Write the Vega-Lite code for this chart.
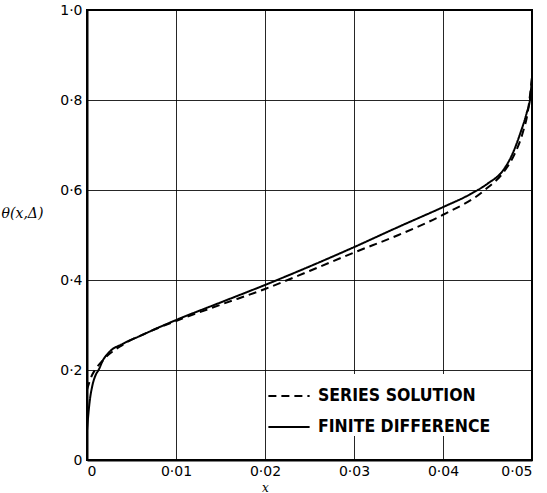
{
  "$schema": "https://vega.github.io/schema/vega-lite/v6.json",
  "width": 445,
  "height": 450,
  "autosize": "none",
  "padding": {"left": 87, "top": 10, "right": 15, "bottom": 33},
  "background": "white",
  "config": {
    "view": {"stroke": "black", "strokeWidth": 2},
    "axis": {
      "labelFont": "DejaVu Sans",
      "labelFontSize": 14,
      "labelColor": "black",
      "gridColor": "black",
      "gridOpacity": 0.85,
      "gridWidth": 1,
      "domainColor": "black",
      "domainWidth": 2,
      "ticks": false
    }
  },
  "data": {
    "values": [
      {"x": 0, "y": 0.065, "s": "FINITE DIFFERENCE"},
      {"x": 0.0001, "y": 0.09, "s": "FINITE DIFFERENCE"},
      {"x": 0.0003, "y": 0.13, "s": "FINITE DIFFERENCE"},
      {"x": 0.0006, "y": 0.165, "s": "FINITE DIFFERENCE"},
      {"x": 0.001, "y": 0.19, "s": "FINITE DIFFERENCE"},
      {"x": 0.0013, "y": 0.2, "s": "FINITE DIFFERENCE"},
      {"x": 0.0018, "y": 0.222, "s": "FINITE DIFFERENCE"},
      {"x": 0.0025, "y": 0.24, "s": "FINITE DIFFERENCE"},
      {"x": 0.004, "y": 0.258, "s": "FINITE DIFFERENCE"},
      {"x": 0.006, "y": 0.276, "s": "FINITE DIFFERENCE"},
      {"x": 0.008, "y": 0.294, "s": "FINITE DIFFERENCE"},
      {"x": 0.01, "y": 0.311, "s": "FINITE DIFFERENCE"},
      {"x": 0.015, "y": 0.35, "s": "FINITE DIFFERENCE"},
      {"x": 0.02, "y": 0.389, "s": "FINITE DIFFERENCE"},
      {"x": 0.025, "y": 0.43, "s": "FINITE DIFFERENCE"},
      {"x": 0.03, "y": 0.473, "s": "FINITE DIFFERENCE"},
      {"x": 0.035, "y": 0.518, "s": "FINITE DIFFERENCE"},
      {"x": 0.04, "y": 0.562, "s": "FINITE DIFFERENCE"},
      {"x": 0.043, "y": 0.59, "s": "FINITE DIFFERENCE"},
      {"x": 0.045, "y": 0.614, "s": "FINITE DIFFERENCE"},
      {"x": 0.0468, "y": 0.645, "s": "FINITE DIFFERENCE"},
      {"x": 0.0478, "y": 0.68, "s": "FINITE DIFFERENCE"},
      {"x": 0.0487, "y": 0.727, "s": "FINITE DIFFERENCE"},
      {"x": 0.0494, "y": 0.771, "s": "FINITE DIFFERENCE"},
      {"x": 0.0498, "y": 0.805, "s": "FINITE DIFFERENCE"},
      {"x": 0.05, "y": 0.85, "s": "FINITE DIFFERENCE"},
      {"x": 0, "y": 0.156, "s": "SERIES SOLUTION"},
      {"x": 0.0003, "y": 0.175, "s": "SERIES SOLUTION"},
      {"x": 0.0006, "y": 0.19, "s": "SERIES SOLUTION"},
      {"x": 0.0009, "y": 0.2, "s": "SERIES SOLUTION"},
      {"x": 0.0018, "y": 0.222, "s": "SERIES SOLUTION"},
      {"x": 0.004, "y": 0.256, "s": "SERIES SOLUTION"},
      {"x": 0.007, "y": 0.285, "s": "SERIES SOLUTION"},
      {"x": 0.01, "y": 0.309, "s": "SERIES SOLUTION"},
      {"x": 0.015, "y": 0.345, "s": "SERIES SOLUTION"},
      {"x": 0.02, "y": 0.38, "s": "SERIES SOLUTION"},
      {"x": 0.025, "y": 0.42, "s": "SERIES SOLUTION"},
      {"x": 0.03, "y": 0.461, "s": "SERIES SOLUTION"},
      {"x": 0.035, "y": 0.5, "s": "SERIES SOLUTION"},
      {"x": 0.04, "y": 0.545, "s": "SERIES SOLUTION"},
      {"x": 0.0447, "y": 0.6, "s": "SERIES SOLUTION"},
      {"x": 0.047, "y": 0.645, "s": "SERIES SOLUTION"},
      {"x": 0.048, "y": 0.678, "s": "SERIES SOLUTION"},
      {"x": 0.049, "y": 0.73, "s": "SERIES SOLUTION"},
      {"x": 0.0495, "y": 0.77, "s": "SERIES SOLUTION"},
      {"x": 0.05, "y": 0.85, "s": "SERIES SOLUTION"}
    ]
  },
  "mark": {"type": "line", "interpolate": "monotone", "strokeWidth": 2, "color": "black", "clip": true},
  "encoding": {
    "x": {
      "field": "x", "type": "quantitative",
      "scale": {"domain": [0, 0.05], "nice": false, "zero": false},
      "axis": {
        "values": [0, 0.01, 0.02, 0.03, 0.04, 0.05],
        "labelExpr": "datum.value == 0 ? '0' : replace(format(datum.value, '.2f'), '.', '·')",
        "labelPadding": 4,
        "title": "x",
        "titleFont": "DejaVu Serif",
        "titleFontStyle": "italic",
        "titleFontWeight": "normal",
        "titleFontSize": 12,
        "titleX": 178,
        "titleY": 27,
        "titleBaseline": "middle"
      }
    },
    "y": {
      "field": "y", "type": "quantitative",
      "scale": {"domain": [0, 1], "nice": false},
      "axis": {
        "values": [0, 0.2, 0.4, 0.6, 0.8, 1.0],
        "labelExpr": "datum.value == 0 ? '0' : replace(format(datum.value, '.1f'), '.', '·')",
        "labelPadding": 5,
        "title": "θ(x,Δ)",
        "titleFont": "DejaVu Serif",
        "titleFontStyle": "italic",
        "titleFontWeight": "normal",
        "titleFontSize": 14,
        "titleAngle": 0,
        "titleAlign": "center",
        "titleBaseline": "middle",
        "titleX": -65,
        "titleY": 203
      }
    },
    "strokeDash": {
      "field": "s", "type": "nominal",
      "scale": {"domain": ["SERIES SOLUTION", "FINITE DIFFERENCE"], "range": [[8, 5], [1, 0]]},
      "legend": {
        "title": null,
        "orient": "none",
        "legendX": 180,
        "legendY": 364,
        "fillColor": "white",
        "padding": 0,
        "symbolType": "stroke",
        "symbolSize": 1700,
        "symbolStrokeWidth": 2,
        "symbolStrokeColor": "black",
        "labelFont": "DejaVu Sans Condensed",
        "labelFontWeight": "bold",
        "labelFontSize": 17.5,
        "labelColor": "black",
        "labelLimit": 400,
        "labelOffset": 7,
        "rowPadding": -5
      }
    }
  }
}
